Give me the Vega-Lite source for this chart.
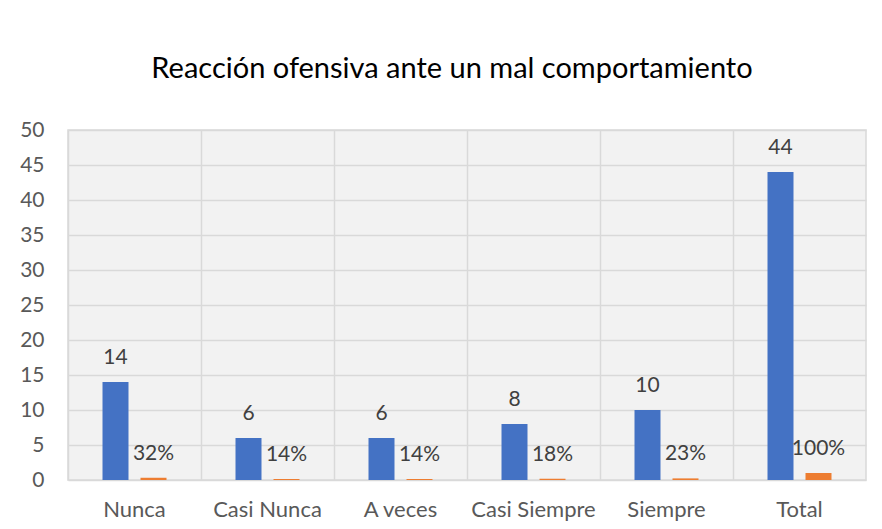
{
  "$schema": "https://vega.github.io/schema/vega-lite/v6.json",
  "width": 798,
  "height": 350,
  "autosize": {"type": "none"},
  "padding": {"left": 68, "top": 130, "right": 16, "bottom": 49},
  "background": "white",
  "title": {
    "text": "Reacción ofensiva ante un mal comportamiento",
    "font": "Lato",
    "fontSize": 29,
    "fontWeight": "normal",
    "color": "#000000",
    "anchor": "middle",
    "dx": -15,
    "offset": 35
  },
  "config": {
    "view": {"stroke": "#d9d9d9", "strokeWidth": 1.5, "fill": "#f2f2f2"},
    "font": "Lato"
  },
  "data": {
    "values": [
      {"categoria": "Nunca", "serie": "Frecuencia", "valor": 14, "etiqueta": "14"},
      {"categoria": "Nunca", "serie": "Porcentaje", "valor": 0.32, "etiqueta": "32%"},
      {"categoria": "Casi Nunca", "serie": "Frecuencia", "valor": 6, "etiqueta": "6"},
      {"categoria": "Casi Nunca", "serie": "Porcentaje", "valor": 0.14, "etiqueta": "14%"},
      {"categoria": "A veces", "serie": "Frecuencia", "valor": 6, "etiqueta": "6"},
      {"categoria": "A veces", "serie": "Porcentaje", "valor": 0.14, "etiqueta": "14%"},
      {"categoria": "Casi Siempre", "serie": "Frecuencia", "valor": 8, "etiqueta": "8"},
      {"categoria": "Casi Siempre", "serie": "Porcentaje", "valor": 0.18, "etiqueta": "18%"},
      {"categoria": "Siempre", "serie": "Frecuencia", "valor": 10, "etiqueta": "10"},
      {"categoria": "Siempre", "serie": "Porcentaje", "valor": 0.23, "etiqueta": "23%"},
      {"categoria": "Total", "serie": "Frecuencia", "valor": 44, "etiqueta": "44"},
      {"categoria": "Total", "serie": "Porcentaje", "valor": 1.0, "etiqueta": "100%"}
    ]
  },
  "encoding": {
    "x": {
      "field": "categoria",
      "type": "nominal",
      "sort": null,
      "title": null,
      "scale": {"paddingInner": 0, "paddingOuter": 0},
      "axis": {
        "bandPosition": 0,
        "labelAngle": 0,
        "labelFont": "Lato",
        "labelFontSize": 22,
        "labelColor": "#595959",
        "labelPadding": 19,
        "ticks": false,
        "domain": false,
        "grid": true,
        "gridColor": "#d9d9d9",
        "gridWidth": 1.5
      }
    },
    "xOffset": {
      "field": "serie",
      "type": "nominal",
      "sort": ["Frecuencia", "Porcentaje"],
      "scale": {"paddingInner": 0.316, "paddingOuter": 0.908}
    },
    "y": {
      "field": "valor",
      "type": "quantitative",
      "title": null,
      "scale": {"domain": [0, 50], "nice": false},
      "axis": {
        "values": [0, 5, 10, 15, 20, 25, 30, 35, 40, 45, 50],
        "labelFont": "Lato",
        "labelFontSize": 21,
        "labelColor": "#595959",
        "labelPadding": 24,
        "ticks": false,
        "domain": false,
        "grid": true,
        "gridColor": "#d9d9d9",
        "gridWidth": 1.5
      }
    }
  },
  "layer": [
    {
      "mark": {"type": "bar"},
      "encoding": {
        "color": {
          "field": "serie",
          "type": "nominal",
          "scale": {"domain": ["Frecuencia", "Porcentaje"], "range": ["#4472C4", "#ED7D31"]},
          "legend": null
        }
      }
    },
    {
      "mark": {"type": "text", "baseline": "alphabetic", "dy": -18, "font": "Lato", "fontSize": 21, "color": "#404040"},
      "encoding": {
        "text": {"field": "etiqueta"}
      }
    }
  ]
}
